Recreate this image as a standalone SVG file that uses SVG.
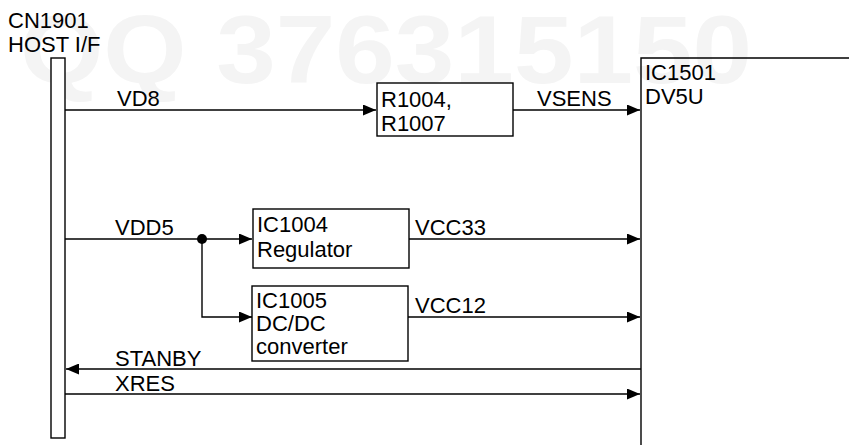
<svg xmlns="http://www.w3.org/2000/svg" width="849" height="445" viewBox="0 0 849 445">
<style>
text{font-family:"Liberation Sans",Arial,Helvetica,sans-serif;font-size:22px;fill:#000}
.wm{font-size:96px;font-weight:bold;fill:#f4f4f4}
.box{fill:#fff;stroke:#000;stroke-width:1.4}
.ln{fill:none;stroke:#000;stroke-width:1.4}
</style>
<defs>
<marker id="ah" markerWidth="13" markerHeight="11" refX="13" refY="5.5" orient="auto" markerUnits="userSpaceOnUse">
<path d="M0,0 L13,5.5 L0,11 Z" fill="#000"/>
</marker>
</defs>
<rect width="849" height="445" fill="#fff"/>
<text class="wm" x="20" y="83" textLength="732" lengthAdjust="spacingAndGlyphs">QQ 376315150</text>
<g id="connectors">
<path class="ln" d="M65,110 H376" marker-end="url(#ah)"/>
<text x="117" y="106">VD8</text>
<path class="ln" d="M513,110 H640" marker-end="url(#ah)"/>
<text x="537" y="106">VSENS</text>
<path class="ln" d="M65,239 H252" marker-end="url(#ah)"/>
<text x="115" y="235">VDD5</text>
<circle cx="202" cy="239" r="5" fill="#000"/>
<path class="ln" d="M202,239 V317 H252" marker-end="url(#ah)"/>
<path class="ln" d="M409,239 H640" marker-end="url(#ah)"/>
<text x="415" y="235">VCC33</text>
<path class="ln" d="M408,317 H640" marker-end="url(#ah)"/>
<text x="415" y="313">VCC12</text>
<path class="ln" d="M641,369 H66" marker-end="url(#ah)"/>
<text x="115" y="366">STANBY</text>
<path class="ln" d="M65,394 H640" marker-end="url(#ah)"/>
<text x="115" y="391">XRES</text>
</g>
<g id="cn1901">
<text x="8" y="28">CN1901</text>
<text x="8" y="52">HOST I/F</text>
<rect class="box" x="51" y="58" width="14" height="380"/>
</g>
<g id="r1004">
<rect class="box" x="377" y="83" width="136" height="53"/>
<text x="381" y="107">R1004,</text>
<text x="381" y="131">R1007</text>
</g>
<g id="ic1004">
<rect class="box" x="253" y="209" width="156" height="59"/>
<text x="257" y="232">IC1004</text>
<text x="257" y="257">Regulator</text>
</g>
<g id="ic1005">
<rect class="box" x="252" y="286" width="156" height="75"/>
<text x="256" y="308">IC1005</text>
<text x="256" y="331">DC/DC</text>
<text x="256" y="354">converter</text>
</g>
<g id="ic1501">
<path class="ln" d="M641,445 V58 H849"/>
<text x="645" y="80">IC1501</text>
<text x="645" y="104">DV5U</text>
</g>
</svg>
